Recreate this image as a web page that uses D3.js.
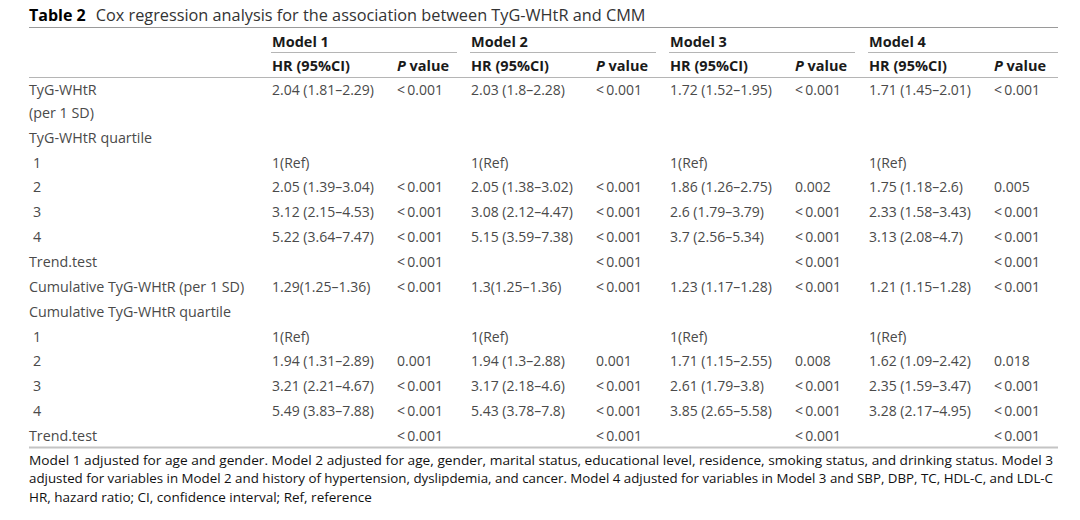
<!DOCTYPE html>
<html>
<head>
<meta charset="utf-8">
<script src="https://cdn.jsdelivr.net/npm/d3@7"></script>
<style>
  body { margin: 0; background: #fff; }
  svg { display: block; }
  text { font-family: "Open Sans", "Noto Sans", sans-serif; }
</style>
</head>
<body>
<svg id="canvas" width="1080" height="520"></svg>
<script>
// table contents
var models = ["Model 1", "Model 2", "Model 3", "Model 4"];
var subHeads = ["HR (95%CI)", "P value"];
var rowLabels = ["TyG-WHtR", "TyG-WHtR quartile", "1", "2", "3", "4", "Trend.test",
  "Cumulative TyG-WHtR (per 1 SD)", "Cumulative TyG-WHtR quartile", "1", "2", "3", "4", "Trend.test"];
var indented = [false, false, true, true, true, true, false, false, false, true, true, true, true, false];

var hr1 = ["2.04 (1.81–2.29)", "", "1(Ref)", "2.05 (1.39–3.04)", "3.12 (2.15–4.53)", "5.22 (3.64–7.47)", "",
  "1.29(1.25–1.36)", "", "1(Ref)", "1.94 (1.31–2.89)", "3.21 (2.21–4.67)", "5.49 (3.83–7.88)", ""];
var hr2 = ["2.03 (1.8–2.28)", "", "1(Ref)", "2.05 (1.38–3.02)", "3.08 (2.12–4.47)", "5.15 (3.59–7.38)", "",
  "1.3(1.25–1.36)", "", "1(Ref)", "1.94 (1.3–2.88)", "3.17 (2.18–4.6)", "5.43 (3.78–7.8)", ""];
var hr3 = ["1.72 (1.52–1.95)", "", "1(Ref)", "1.86 (1.26–2.75)", "2.6 (1.79–3.79)", "3.7 (2.56–5.34)", "",
  "1.23 (1.17–1.28)", "", "1(Ref)", "1.71 (1.15–2.55)", "2.61 (1.79–3.8)", "3.85 (2.65–5.58)", ""];
var hr4 = ["1.71 (1.45–2.01)", "", "1(Ref)", "1.75 (1.18–2.6)", "2.33 (1.58–3.43)", "3.13 (2.08–4.7)", "",
  "1.21 (1.15–1.28)", "", "1(Ref)", "1.62 (1.09–2.42)", "2.35 (1.59–3.47)", "3.28 (2.17–4.95)", ""];

var lt = "<\u20090.001";
var p1 = [lt, "", "", lt, lt, lt, lt, lt, "", "", "0.001", lt, lt, lt];
var p2 = [lt, "", "", lt, lt, lt, lt, lt, "", "", "0.001", lt, lt, lt];
var p3 = [lt, "", "", "0.002", lt, lt, lt, lt, "", "", "0.008", lt, lt, lt];
var p4 = [lt, "", "", "0.005", lt, lt, lt, lt, "", "", "0.018", lt, lt, lt];

var footnotes = [
  "Model 1 adjusted for age and gender. Model 2 adjusted for age, gender, marital status, educational level, residence, smoking status, and drinking status. Model 3",
  "adjusted for variables in Model 2 and history of hypertension, dyslipdemia, and cancer. Model 4 adjusted for variables in Model 3 and SBP, DBP, TC, HDL-C, and LDL-C",
  "HR, hazard ratio; CI, confidence interval; Ref, reference"
];

var hrCols = [hr1, hr2, hr3, hr4];
var pCols = [p1, p2, p3, p4];

var svg = d3.select("#canvas");
var left = 29, right = 1058;

// column positions: one model per step, P value column offset inside
var x = d3.scaleLinear().domain([0, 3]).range([270, 867]);
var pOffset = 125;
// row slots (first row's label wraps onto a second slot)
var slot = function(i) { return i == 0 ? 0.1 : i + 1; };
var y = d3.scaleLinear().domain([0, 14]).range([93, 441]);

// title
var title = svg.append("text").attr("x", left).attr("y", 21);
title.append("tspan").attr("font-weight", "bold").attr("fill", "#000").style("font-size", "16px").text("Table 2");
title.append("tspan").attr("dx", 10).attr("fill", "#333").style("font-size", "16.3px")
  .text("Cox regression analysis for the association between TyG-WHtR and CMM");

// rules
svg.append("line").attr("x1", left).attr("x2", right).attr("y1", 27.5).attr("y2", 27.5)
  .attr("stroke", "#9a9a9a").attr("stroke-width", 1);
svg.append("line").attr("x1", left).attr("x2", right).attr("y1", 77.5).attr("y2", 77.5)
  .attr("stroke", "#b5b5b5").attr("stroke-width", 1.2);
svg.append("line").attr("x1", left).attr("x2", right).attr("y1", 447.5).attr("y2", 447.5)
  .attr("stroke", "#c4c4c4").attr("stroke-width", 2);

// model headers
var mh = svg.selectAll(".model").data(models).enter().append("g").attr("class", "model");
mh.append("text")
  .attr("x", function(d, i) { return x(i) + 2; })
  .attr("y", 47)
  .attr("font-weight", "bold").attr("fill", "#1a1a1a").style("font-size", "14.5px")
  .text(function(d) { return d; });
mh.append("line")
  .attr("x1", function(d, i) { return x(i) + 1; })
  .attr("x2", function(d, i) { return i == 3 ? right : x(i + 1) - 12; })
  .attr("y1", 52.5).attr("y2", 52.5)
  .attr("stroke", "#b5b5b5").attr("stroke-width", 1.2);

// sub headers
models.forEach(function(m, i) {
  svg.append("text").attr("x", x(i) + 2).attr("y", 71)
    .attr("font-weight", "bold").attr("fill", "#1a1a1a").style("font-size", "14.5px")
    .text(subHeads[0]);
  var pt = svg.append("text").attr("x", x(i) + 2 + pOffset).attr("y", 71)
    .attr("font-weight", "bold").attr("fill", "#1a1a1a").style("font-size", "14.5px");
  pt.append("tspan").attr("font-style", "italic").text("P");
  pt.append("tspan").text(" value");
});

// row labels
svg.selectAll(".rowlabel").data(rowLabels).enter().append("text")
  .attr("class", "rowlabel")
  .attr("x", function(d, i) { return indented[i] ? left + 4 : left; })
  .attr("y", function(d, i) { return y(slot(i)); })
  .attr("fill", "#4a4a4a").style("font-size", "14.3px")
  .text(function(d) { return d; });
svg.append("text").attr("x", left).attr("y", y(1))
  .attr("fill", "#4a4a4a").style("font-size", "14.3px").text("(per 1 SD)");

// cells
hrCols.forEach(function(col, m) {
  svg.selectAll(".hr" + m).data(col).enter().append("text")
    .attr("class", "hr" + m)
    .attr("x", x(m) + 2)
    .attr("y", function(d, i) { return y(slot(i)); })
    .attr("fill", "#4a4a4a").style("font-size", "14px")
    .text(function(d) { return d; });
});
pCols.forEach(function(col, m) {
  svg.selectAll(".p" + m).data(col).enter().append("text")
    .attr("class", "p" + m)
    .attr("x", x(m) + 2 + pOffset)
    .attr("y", function(d, i) { return y(slot(i)); })
    .attr("fill", "#4a4a4a").style("font-size", "14px")
    .text(function(d) { return d; });
});

// footnotes
var fy = [465, 483, 502];
svg.selectAll(".foot").data(footnotes).enter().append("text")
  .attr("class", "foot")
  .attr("x", left)
  .attr("y", function(d, i) { return fy[i]; })
  .attr("fill", "#111").style("font-size", "13.5px")
  .attr("textLength", function(d, i) { return i < 2 ? 1024 : null; })
  .attr("lengthAdjust", "spacingAndGlyphs")
  .text(function(d) { return d; });
</script>
</body>
</html>
